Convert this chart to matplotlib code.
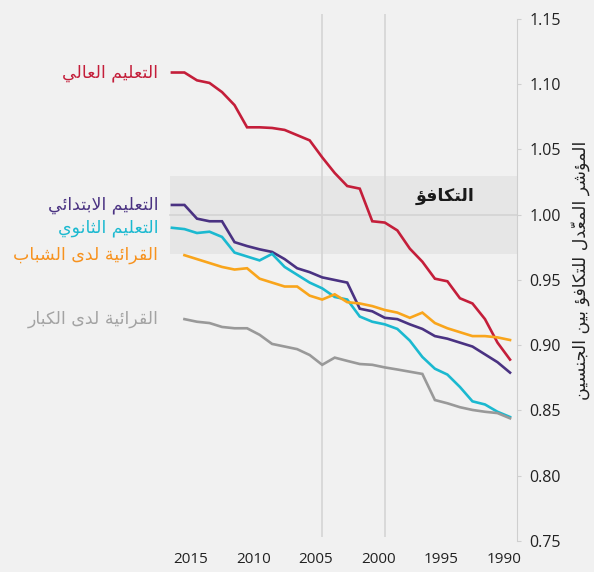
import numpy as np
import matplotlib
matplotlib.use('Agg')
import matplotlib.pyplot as plt

# ---- data ----
years_edu = list(range(2017, 1989, -1))
years_lit = list(range(2016, 1989, -1))

tertiary = [1.109, 1.109, 1.103, 1.101, 1.094, 1.084, 1.067, 1.067, 1.0665, 1.065,
            1.061, 1.057, 1.044, 1.032, 1.022, 1.020, 0.995, 0.994, 0.988, 0.974,
            0.964, 0.951, 0.949, 0.936, 0.932, 0.920, 0.902, 0.889]
primary = [1.0075, 1.0075, 0.997, 0.995, 0.995, 0.979, 0.976, 0.9735, 0.9715, 0.966,
           0.959, 0.956, 0.952, 0.950, 0.948, 0.928, 0.926, 0.921, 0.920, 0.916,
           0.9125, 0.907, 0.905, 0.902, 0.899, 0.893, 0.887, 0.879]
secondary = [0.990, 0.989, 0.986, 0.987, 0.983, 0.971, 0.968, 0.965, 0.970, 0.960,
             0.954, 0.948, 0.9436, 0.937, 0.935, 0.922, 0.918, 0.916, 0.9125, 0.9035,
             0.891, 0.882, 0.8775, 0.868, 0.857, 0.8546, 0.849, 0.845]
youth_lit = [0.969, 0.966, 0.963, 0.960, 0.958, 0.959, 0.951, 0.948, 0.945, 0.945,
             0.938, 0.935, 0.939, 0.933, 0.932, 0.930, 0.927, 0.925, 0.921, 0.925,
             0.917, 0.913, 0.910, 0.907, 0.907, 0.906, 0.904]
adult_lit = [0.920, 0.918, 0.917, 0.914, 0.913, 0.913, 0.908, 0.901, 0.899, 0.897,
             0.8925, 0.885, 0.8905, 0.888, 0.8856, 0.885, 0.883, 0.8814, 0.8797, 0.878,
             0.858, 0.8555, 0.8525, 0.8504, 0.849, 0.848, 0.844]

series_names = ['التعليم العالي', 'التعليم الابتدائي', 'التعليم الثانوي',
                'القرائية لدى الشباب', 'القرائية لدى الكبار']
parity_label = 'التكافؤ'
y_label = 'المؤشر المعدّل للتكافؤ بين الجنسين'
tick_years = [2015, 2010, 2005, 2000, 1995, 1990]
y_ticks = [0.75, 0.80, 0.85, 0.90, 0.95, 1.00, 1.05, 1.10, 1.15]


# ---- minimal arabic shaping (matplotlib has no complex text layout) ----
_forms = [('ء', 0xFE80, 1), ('آ', 0xFE81, 2), ('أ', 0xFE83, 2), ('ؤ', 0xFE85, 2),
          ('إ', 0xFE87, 2), ('ئ', 0xFE89, 4), ('ا', 0xFE8D, 2), ('ب', 0xFE8F, 4),
          ('ة', 0xFE93, 2), ('ت', 0xFE95, 4), ('ث', 0xFE99, 4), ('ج', 0xFE9D, 4),
          ('ح', 0xFEA1, 4), ('خ', 0xFEA5, 4), ('د', 0xFEA9, 2), ('ذ', 0xFEAB, 2),
          ('ر', 0xFEAD, 2), ('ز', 0xFEAF, 2), ('س', 0xFEB1, 4), ('ش', 0xFEB5, 4),
          ('ص', 0xFEB9, 4), ('ض', 0xFEBD, 4), ('ط', 0xFEC1, 4), ('ظ', 0xFEC5, 4),
          ('ع', 0xFEC9, 4), ('غ', 0xFECD, 4), ('ف', 0xFED1, 4), ('ق', 0xFED5, 4),
          ('ك', 0xFED9, 4), ('ل', 0xFEDD, 4), ('م', 0xFEE1, 4), ('ن', 0xFEE5, 4),
          ('ه', 0xFEE9, 4), ('و', 0xFEED, 2), ('ى', 0xFEEF, 2), ('ي', 0xFEF1, 4)]
FORMS = {c: (b, n) for c, b, n in _forms}
LAM_ALEF = {'آ': 0xFEF5, 'أ': 0xFEF7, 'إ': 0xFEF9, 'ا': 0xFEFB}
MARKS = set(chr(c) for c in range(0x064B, 0x0653))


def jtype(tok):
    c = tok[0]
    if isinstance(c, tuple):
        return 'R'
    if c in FORMS:
        return 'D' if FORMS[c][1] == 4 else ('R' if FORMS[c][1] == 2 else 'U')
    return 'U'


def ar(text):
    tokens = []
    i = 0
    while i < len(text):
        c = text[i]
        if c in MARKS and tokens:
            tokens[-1][1] += c
        elif c == 'ل' and i + 1 < len(text) and text[i + 1] in LAM_ALEF:
            tokens.append([('LA', text[i + 1]), ''])
            i += 1
        else:
            tokens.append([c, ''])
        i += 1
    out = []
    for k, tok in enumerate(tokens):
        t = jtype(tok)
        prev_j = k > 0 and jtype(tokens[k - 1]) == 'D'
        next_j = t == 'D' and k + 1 < len(tokens) and jtype(tokens[k + 1]) in 'DR'
        c = tok[0]
        if isinstance(c, tuple):
            g = chr(LAM_ALEF[c[1]] + (1 if prev_j else 0))
        elif t == 'U':
            g = c
        else:
            base = FORMS[c][0]
            if prev_j and next_j:
                idx = 3
            elif next_j:
                idx = 2
            elif prev_j:
                idx = 1
            else:
                idx = 0
            g = chr(base + idx)
        out.append(g + tok[1])
    return ''.join(out[::-1])


# ---- figure ----
bg = '#f1f1f1'
fig = plt.figure(figsize=(5.94, 5.72), dpi=100, facecolor=bg)
ax = fig.add_axes([0.0, 0.0472, 0.8699, 0.9353])
ax.set_facecolor('none')

ax.set_xlim(2030.73, 1989.465)
ax.set_ylim(0.7469, 1.1569)

# parity band
ax.fill_between([2017.15, 1989.465], 0.97, 1.03, color='#e6e6e6', lw=0, zorder=0)
ax.plot([2017.15, 1989.465], [1.0, 1.0], color='#d3d3d3', lw=1.2, zorder=1)
ax.vlines([2005, 2000], 0.753, 1.154, color='#d5d5d5', lw=1.2, zorder=1)

line_colors = ['#c41e3a', '#4a3282', '#1bb9d0', '#f9a51c', '#999999']
label_colors = ['#c41e3a', '#4a3282', '#1bb9d0', '#f7921e', '#a3a3a3']
all_years = [years_edu, years_edu, years_edu, years_lit, years_lit]
all_vals = [tertiary, primary, secondary, youth_lit, adult_lit]

for name, yrs, vals, lc, tc in zip(series_names, all_years, all_vals, line_colors, label_colors):
    ax.plot(yrs, vals, color=lc, lw=1.9, solid_joinstyle='miter', zorder=3)
    ax.text(2018.1, vals[0], ar(name), color=tc, fontsize=12.5, ha='right', va='center',
            family=['DejaVu Sans'])

ax.text(1995.2, 1.0145, ar(parity_label), color='#1a1a1a', fontsize=12.5,
        fontweight='bold', ha='center', va='center', family=['DejaVu Sans'])

# axes styling
for s in ['left', 'top', 'bottom']:
    ax.spines[s].set_visible(False)
ax.spines['right'].set_color('#cfcfcf')
ax.spines['right'].set_bounds(0.75, 1.15)
ax.yaxis.tick_right()
ax.set_yticks(y_ticks)
ax.set_yticklabels([f'{v:.2f}' for v in y_ticks])
ax.tick_params(axis='y', length=3, color='#cfcfcf', pad=6, labelsize=11.5,
               labelcolor='#222222')
for lab in ax.get_yticklabels():
    lab.set_family('Open Sans')

ax.set_xticks(np.array(tick_years) + 0.5)
ax.set_xticklabels([str(y) for y in tick_years])
ax.tick_params(axis='x', length=0, pad=5, labelsize=11, labelcolor='#222222')
for lab in ax.get_xticklabels():
    lab.set_family('Open Sans')

fig.text(0.977, 0.528, ar(y_label), rotation=90, ha='center', va='center',
         fontsize=12.5, color='#222222', family=['DejaVu Sans'])

plt.savefig('out.png', dpi=100, facecolor=bg)
